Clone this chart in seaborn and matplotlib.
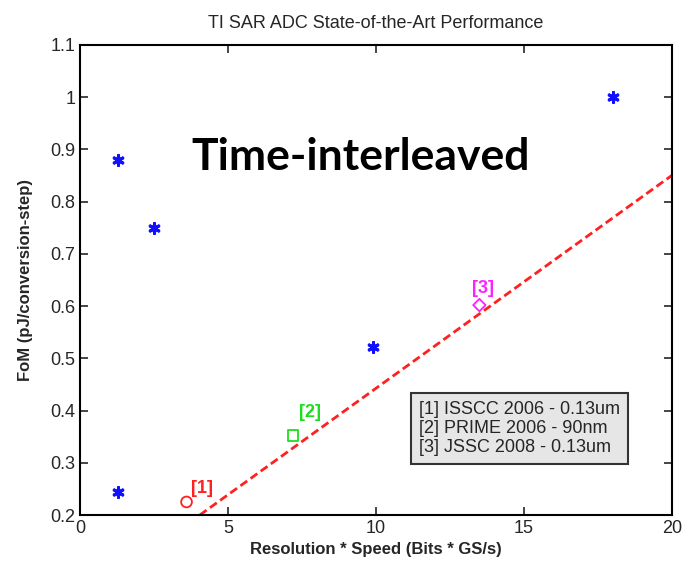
import matplotlib
matplotlib.use("Agg")
import matplotlib.pyplot as plt
import seaborn as sns
import pandas as pd

# Data
ti_x = [1.3, 2.5, 1.3, 9.9, 18.0]
ti_y = [0.88, 0.75, 0.245, 0.522, 1.0]
ref_labels = ["[1]", "[2]", "[3]"]
ref_x = [3.6, 7.2, 13.5]
ref_y = [0.225, 0.352, 0.602]
fit_x = [4.05, 20.0]
fit_y = [0.2, 0.85]
legend_lines = ["[1] ISSCC 2006 - 0.13um", "[2] PRIME 2006 - 90nm", "[3] JSSC 2008 - 0.13um"]
x_ticks = [0, 5, 10, 15, 20]
y_ticks = [0.2, 0.3, 0.4, 0.5, 0.6, 0.7, 0.8, 0.9, 1.0, 1.1]
y_ticklabels = ["0.2", "0.3", "0.4", "0.5", "0.6", "0.7", "0.8", "0.9", "1", "1.1"]

sns.set_style("white")
plt.rcParams['font.family'] = ['Liberation Sans', 'DejaVu Sans']

fig = plt.figure(figsize=(6.84, 5.66), dpi=100)
ax = fig.add_axes([0.117, 0.0901, 0.865, 0.8304])

ti = pd.DataFrame({"x": ti_x, "y": ti_y})
sns.scatterplot(data=ti, x="x", y="y", ax=ax, marker=(6, 2, 0), s=50,
                color="#1010ff", linewidth=2.2, edgecolor="#1010ff", zorder=3)

sns.lineplot(x=fit_x, y=fit_y, ax=ax, color="#ff2020", linestyle=(0, (3, 1.5)),
             linewidth=2, zorder=2)

ref_markers = ["o", "s", "D"]
ref_colors = ["#ff2020", "#20dd20", "#ff20ff"]
ref_sizes = [60, 60, 40]
lab_dx = [0.15, 0.2, -0.25]
lab_dy = [0.01, 0.028, 0.016]
for lab, xx, yy, m, c, s, dx, dy in zip(ref_labels, ref_x, ref_y, ref_markers, ref_colors,
                                         ref_sizes, lab_dx, lab_dy):
    sns.scatterplot(x=[xx], y=[yy], ax=ax, marker=m, s=s, facecolor="none",
                    edgecolor=c, linewidth=1.3, zorder=4)
    ax.text(xx + dx, yy + dy, lab, color=c, fontsize=13, fontweight="bold",
            ha="left", va="bottom")

ax.text(9.5, 0.885, "Time-interleaved", fontsize=32, fontweight="bold", color="black",
        family=["Lato", "DejaVu Sans"], ha="center", va="center")

ax.text(11.45, 0.418, "\n".join(legend_lines), fontsize=13, va="top", ha="left",
        linespacing=1.15,
        bbox=dict(boxstyle="square,pad=0.45", facecolor="#e6e6e6", edgecolor="#333333",
                  linewidth=1.5))

ax.set_xlim(0, 20)
ax.set_ylim(0.2, 1.1)
ax.set_xticks(x_ticks)
ax.set_yticks(y_ticks)
ax.set_yticklabels(y_ticklabels)
ax.tick_params(direction="in", length=6, width=1.2, labelsize=13, top=True, right=True,
               bottom=True, left=True)
for sp in ax.spines.values():
    sp.set_visible(True)
    sp.set_color("black")
    sp.set_linewidth(1.5)

ax.set_xlabel("Resolution * Speed (Bits * GS/s)", fontsize=12, fontweight="bold", labelpad=4)
ax.set_ylabel("FoM (pJ/conversion-step)", fontsize=12, fontweight="bold", labelpad=12)
ax.set_title("TI SAR ADC State-of-the-Art Performance", fontsize=13, pad=12)

fig.savefig("out.png", dpi=100)
